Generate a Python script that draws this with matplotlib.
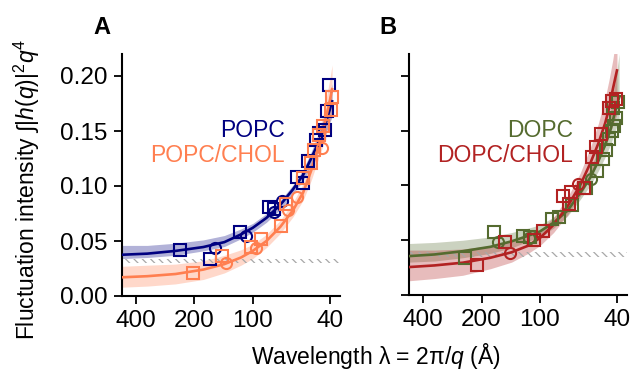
import matplotlib
matplotlib.use("Agg")
import matplotlib.pyplot as plt
from matplotlib.ticker import NullLocator, FixedLocator, FixedFormatter

plt.rcParams['font.family'] = ['Liberation Sans', 'DejaVu Sans']
plt.rcParams['mathtext.fontset'] = 'custom'
plt.rcParams['mathtext.rm'] = 'Liberation Sans'
plt.rcParams['mathtext.it'] = 'Liberation Sans:italic'
plt.rcParams['hatch.linewidth'] = 0.9

# fit curves (wavelength in Angstrom)
lam_fit = [474, 350, 250, 180, 140, 115, 100, 85, 72, 62, 55, 50, 46, 43, 40, 39]

popc_fit = [0.0375, 0.0385, 0.041, 0.0445, 0.049, 0.056, 0.062, 0.071, 0.083, 0.097, 0.110, 0.125, 0.139, 0.152, 0.170, 0.177]
popc_lo = [0.034, 0.035, 0.037, 0.041, 0.045, 0.052, 0.058, 0.067, 0.079, 0.093, 0.105, 0.118, 0.131, 0.143, 0.158, 0.163]
popc_hi = [0.046, 0.046, 0.048, 0.051, 0.055, 0.061, 0.066, 0.075, 0.087, 0.101, 0.115, 0.131, 0.147, 0.162, 0.184, 0.193]

popc_chol_fit = [0.017, 0.018, 0.020, 0.024, 0.029, 0.035, 0.041, 0.050, 0.063, 0.078, 0.094, 0.114, 0.135, 0.153, 0.178, 0.188]
popc_chol_lo = [0.008, 0.009, 0.011, 0.015, 0.021, 0.028, 0.034, 0.044, 0.057, 0.072, 0.087, 0.105, 0.124, 0.139, 0.160, 0.168]
popc_chol_hi = [0.027, 0.028, 0.029, 0.032, 0.037, 0.042, 0.047, 0.056, 0.069, 0.085, 0.102, 0.123, 0.147, 0.168, 0.198, 0.210]

dopc_fit = [0.0355, 0.037, 0.040, 0.044, 0.049, 0.054, 0.058, 0.066, 0.077, 0.093, 0.107, 0.122, 0.137, 0.152, 0.174, 0.180]
dopc_lo = [0.030, 0.031, 0.034, 0.038, 0.043, 0.049, 0.053, 0.061, 0.072, 0.087, 0.100, 0.113, 0.126, 0.138, 0.155, 0.160]
dopc_hi = [0.047, 0.048, 0.050, 0.053, 0.057, 0.061, 0.064, 0.071, 0.082, 0.099, 0.115, 0.132, 0.150, 0.170, 0.205, 0.220]

lam_fit_chol = [474, 350, 250, 180, 140, 115, 100, 85, 72, 62, 55, 50, 46, 44, 42, 40]
dopc_chol_fit = [0.0255, 0.027, 0.0295, 0.034, 0.039, 0.045, 0.052, 0.064, 0.081, 0.100, 0.120, 0.138, 0.157, 0.170, 0.188, 0.205]
dopc_chol_lo = [0.013, 0.015, 0.018, 0.024, 0.030, 0.038, 0.045, 0.057, 0.073, 0.090, 0.107, 0.121, 0.136, 0.145, 0.155, 0.165]
dopc_chol_hi = [0.041, 0.041, 0.042, 0.045, 0.049, 0.053, 0.059, 0.071, 0.089, 0.111, 0.134, 0.156, 0.180, 0.196, 0.215, 0.240]

# measured points: squares and circles
popc_sq_lam = [237, 167, 116, 82, 78, 58.8, 55.4, 52.2, 47.3, 45.4, 42.5, 41.5, 40.4]
popc_sq = [0.042, 0.034, 0.058, 0.081, 0.079, 0.1085, 0.103, 0.123, 0.142, 0.148, 0.151, 0.168, 0.192]
popc_ci_lam = [157, 109, 77.8, 70.3]
popc_ci = [0.044, 0.055, 0.076, 0.086]

popc_chol_sq_lam = [203, 144, 102.6, 90.3, 71.8, 67.6, 55.4, 50.1, 48.2, 45.4, 43.5, 39.5, 39.1]
popc_chol_sq = [0.021, 0.036, 0.045, 0.052, 0.064, 0.084, 0.107, 0.121, 0.133, 0.146, 0.155, 0.169, 0.181]
popc_chol_ci_lam = [137, 96.8, 66.2, 59.3, 44.2]
popc_chol_ci = [0.030, 0.044, 0.078, 0.090, 0.135]

dopc_sq_lam = [244, 172, 122, 113, 86.9, 79.3, 68.3, 57.9, 50.5, 47.5, 45.7, 43.9, 42.6, 42.0, 41.4, 40.6, 39.4]
dopc_sq = [0.034, 0.0576, 0.0536, 0.053, 0.069, 0.071, 0.082, 0.098, 0.1136, 0.124, 0.132, 0.142, 0.150, 0.171, 0.1545, 0.162, 0.176]
dopc_ci_lam = [164, 114, 54.6]
dopc_ci = [0.048, 0.052, 0.106]

dopc_chol_sq_lam = [212, 152, 107, 96.6, 76.2, 70.4, 69.2, 59.2, 53.6, 51.4, 48.5, 44.0, 42.6, 40.6]
dopc_chol_sq = [0.027, 0.048, 0.050, 0.0585, 0.090, 0.083, 0.094, 0.098, 0.126, 0.135, 0.147, 0.171, 0.177, 0.179]
dopc_chol_ci_lam = [142, 63.8]
dopc_chol_ci = [0.038, 0.1015]

xticks = [400, 200, 100, 40]
yticks = [0.00, 0.05, 0.10, 0.15, 0.20]

fig = plt.figure(figsize=(6.32, 3.70), dpi=100)
axA = fig.add_axes([121.7 / 632, 1 - 296 / 370, 218.3 / 632, 242 / 370])
axB = fig.add_axes([409 / 632, 1 - 295 / 370, 218 / 632, 241 / 370])


def draw(ax, lam, fit, lo, hi, sq_lam, sq, ci_lam, ci, color):
    ax.fill_between(lam, lo, hi, color=color, alpha=0.3, lw=0, zorder=1)
    ax.plot(lam, fit, color=color, lw=1.9, zorder=3)
    ax.plot(sq_lam, sq, 's', ms=8, mfc='none', mec=color, mew=1.5, zorder=4)
    ax.plot(ci_lam, ci, 'o', ms=8, mfc='none', mec=color, mew=1.5, zorder=4)


draw(axA, lam_fit, popc_fit, popc_lo, popc_hi, popc_sq_lam, popc_sq,
     popc_ci_lam, popc_ci, 'navy')
draw(axA, lam_fit, popc_chol_fit, popc_chol_lo, popc_chol_hi, popc_chol_sq_lam,
     popc_chol_sq, popc_chol_ci_lam, popc_chol_ci, 'coral')
draw(axB, lam_fit, dopc_fit, dopc_lo, dopc_hi, dopc_sq_lam, dopc_sq,
     dopc_ci_lam, dopc_ci, 'darkolivegreen')
draw(axB, lam_fit_chol, dopc_chol_fit, dopc_chol_lo, dopc_chol_hi,
     dopc_chol_sq_lam, dopc_chol_sq, dopc_chol_ci_lam, dopc_chol_ci, 'firebrick')

# noise floor strips
axA.axhspan(0.030, 0.034, facecolor='none', edgecolor='#a8a8a8', hatch='\\\\\\\\', lw=0, zorder=2)
axB.axhspan(0.035, 0.039, facecolor='none', edgecolor='#a8a8a8', hatch='\\\\\\\\', lw=0, zorder=2)

for ax in (axA, axB):
    ax.set_xscale('log')
    ax.set_xlim(474, 35.5)
    ax.set_ylim(0, 0.22)
    ax.xaxis.set_major_locator(FixedLocator(xticks))
    ax.xaxis.set_major_formatter(FixedFormatter([str(t) for t in xticks]))
    ax.xaxis.set_minor_locator(NullLocator())
    ax.set_yticks(yticks)
    ax.spines['top'].set_visible(False)
    ax.spines['right'].set_visible(False)
    for s in ('left', 'bottom'):
        ax.spines[s].set_linewidth(1.5)
    ax.tick_params(labelsize=17.5, length=6, width=1.3, pad=4)

axA.set_yticklabels(['%.2f' % t for t in yticks])
axB.set_yticklabels([])

axA.text(0.748, 0.682, 'POPC', color='navy', fontsize=16.5,
         ha='right', va='center', transform=axA.transAxes)
axA.text(0.748, 0.579, 'POPC/CHOL', color='coral', fontsize=16.5,
         ha='right', va='center', transform=axA.transAxes)
axB.text(0.752, 0.682, 'DOPC', color='darkolivegreen', fontsize=16.5,
         ha='right', va='center', transform=axB.transAxes)
axB.text(0.752, 0.579, 'DOPC/CHOL', color='firebrick', fontsize=16.5,
         ha='right', va='center', transform=axB.transAxes)

fig.text(102 / 632, 1 - 28 / 370, 'A', fontsize=17, weight='bold', ha='center', va='center')
fig.text(388 / 632, 1 - 28 / 370, 'B', fontsize=17, weight='bold', ha='center', va='center')

fig.text(27 / 632, 1 - 189 / 370, r'Fluctuation intensity $\int|h(q)|^2q^4$',
         fontsize=16.5, rotation=90, ha='center', va='center')
fig.text(376 / 632, 1 - 356 / 370, r'Wavelength λ = 2π/$q$ (Å)',
         fontsize=16.5, ha='center', va='center')

fig.savefig('out.png', dpi=100)
